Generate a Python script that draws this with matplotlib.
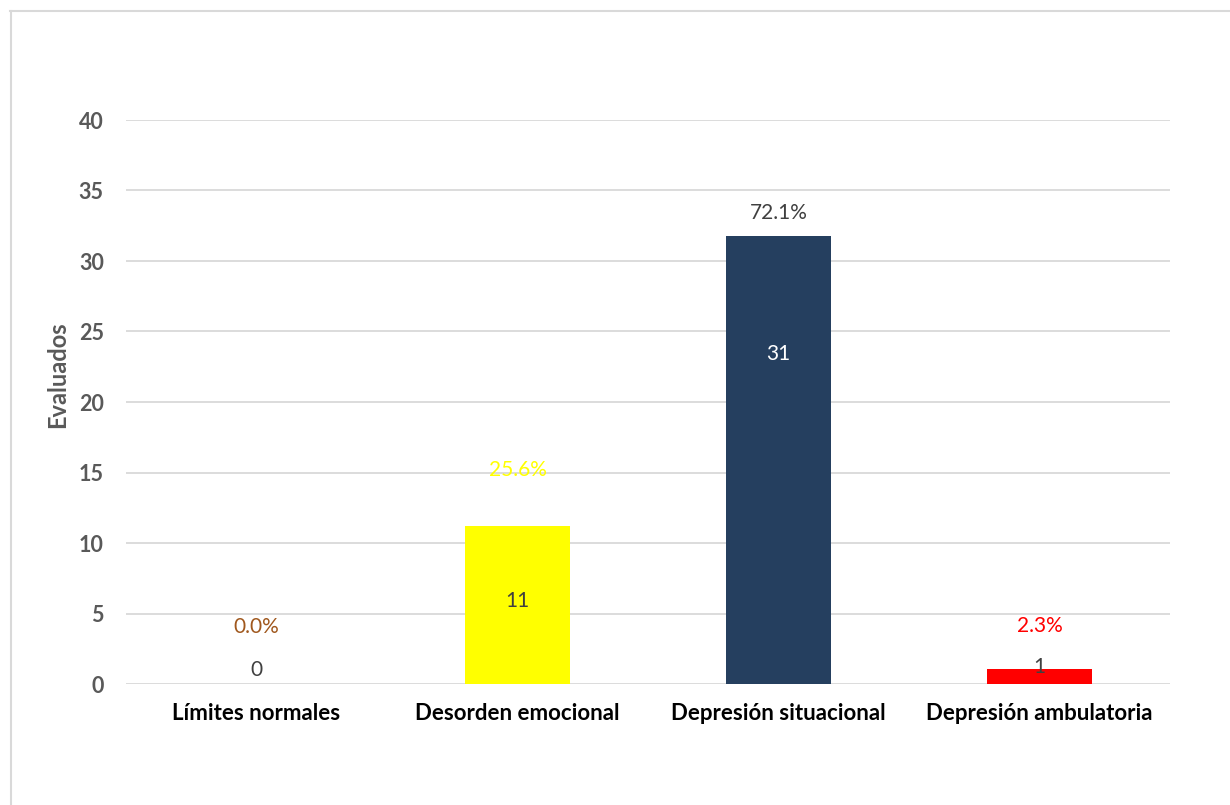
import matplotlib.pyplot as plt
from matplotlib.lines import Line2D

categories = ["Límites normales", "Desorden emocional", "Depresión situacional", "Depresión ambulatoria"]
bar_heights = [0, 11.2, 31.75, 1.05]
count_labels = ["0", "11", "31", "1"]
count_label_y = [1.0, 5.9, 23.4, 1.2]
pct_labels = ["0.0%", "25.6%", "72.1%", "2.3%"]
pct_label_y = [4.05, 15.2, 33.4, 4.1]
yticks = [0, 5, 10, 15, 20, 25, 30, 35, 40]

bar_colors = ["#C55A11", "#FFFF00", "#253F5F", "#FF0000"]
pct_colors = ["#A0581E", "#FFFF00", "#404040", "#FF0000"]
count_colors = ["#404040", "#404040", "#FFFFFF", "#404040"]

plt.rcParams['font.family'] = ['Lato', 'DejaVu Sans']

fig = plt.figure(figsize=(12.3, 8.05), dpi=100)
ax = fig.add_axes([126/1230, 1-684/805, (1170-126)/1230, (684-120)/805])

x = list(range(len(categories)))
ax.bar(x, bar_heights, width=0.40, color=bar_colors, zorder=3)
ax.set_xlim(-0.5, 3.5)
ax.set_ylim(0, 40)
ax.set_yticks(yticks)
ax.set_yticklabels([str(t) for t in yticks], fontsize=15.5, fontweight='bold', color='#595959')
ax.set_xticks(x)
ax.set_xticklabels(categories, fontsize=16, fontweight='bold', color='#000000')
ax.tick_params(axis='both', length=0)
ax.tick_params(axis='y', pad=16)
ax.tick_params(axis='x', pad=14)
ax.grid(axis='y', color='#D9D9D9', linewidth=1.3, zorder=0)
for s in ax.spines.values():
    s.set_visible(False)

for i in x:
    ax.text(i, count_label_y[i], count_labels[i], ha='center', va='center',
            fontsize=15, color=count_colors[i], zorder=4)
    ax.text(i, pct_label_y[i], pct_labels[i], ha='center', va='center',
            fontsize=15, color=pct_colors[i], zorder=4)

fig.text(58/1230, 1-375/805, "Evaluados", rotation=90, ha='center', va='center',
         fontsize=17, fontweight='bold', color='#595959')

fig.add_artist(Line2D([10.5/1230, 10.5/1230], [0, 1-11/805], color='#D9D9D9', linewidth=1.5,
                      transform=fig.transFigure))
fig.add_artist(Line2D([10/1230, 1], [1-11/805, 1-11/805], color='#D9D9D9', linewidth=1.5,
                      transform=fig.transFigure))

fig.savefig("out.png", dpi=100)
